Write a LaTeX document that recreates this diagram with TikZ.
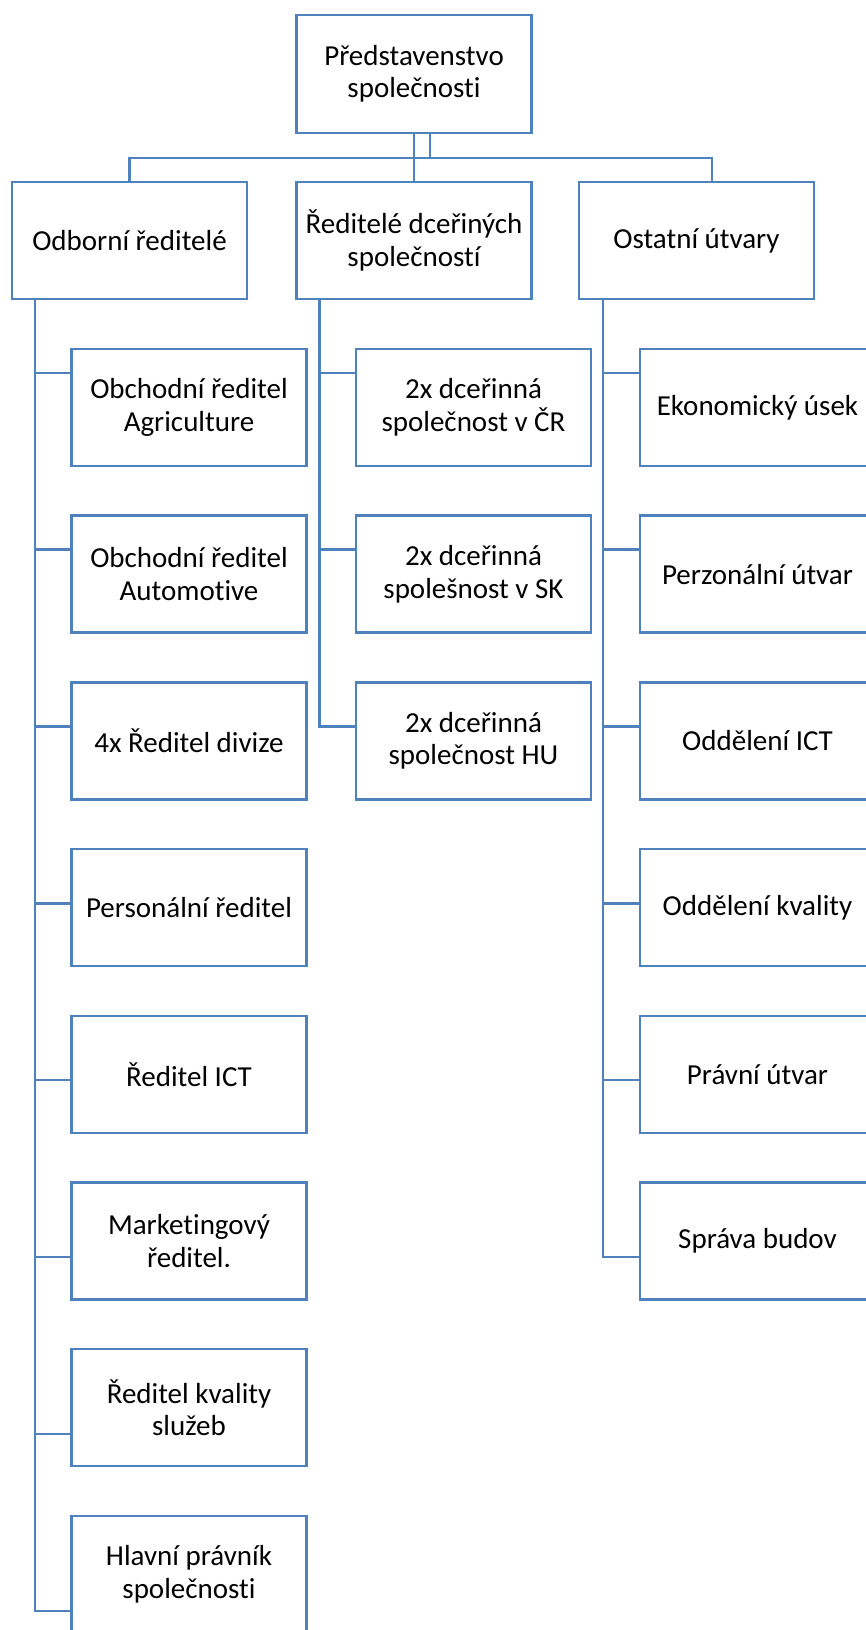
\documentclass[tikz,border=0pt]{standalone}
\usepackage{fontspec}
\setmainfont[Ligatures=NoCommon]{Carlito}
\usetikzlibrary{positioning,calc}
\definecolor{orgblue}{HTML}{4F81BD}
\tikzset{
  oc/.style={align=center, inner sep=0pt, font=\fontsize{29}{32.5}\selectfont},
  oc box/.style={oc, draw=orgblue, line width=2.5pt, fill=white, minimum width=235pt, minimum height=117pt},
  oc link/.style={draw=orgblue, line width=2.5pt},
}
\begin{document}
\begin{tikzpicture}[x=1pt, y=-1pt]
  \fill[white] (0,0) rectangle (866,1630);
  \useasboundingbox (0,0) rectangle (866,1630);
  % board and the three branches below it
  \node[oc box, minimum height=118pt] (board) at (414,74) {Představenstvo\\společnosti};
  \node[oc box] (odb)  at (129.5,240.5) {Odborní ředitelé};
  \node[oc box] (dcer) at (414,240.5)   {Ředitelé dceřiných\\společností};
  \node[oc box] (ost)  at (696.5,240.5) {Ostatní útvary};
  \coordinate (bus) at (0,158);
  \draw[oc link] (board.south) -- (dcer.north);
  \draw[oc link] ([xshift=16pt]board.south) -- ([xshift=16pt]board.south |- bus);
  \draw[oc link] (odb.north) -- (odb.north |- bus) -- ([xshift=15.5pt]ost.north |- bus) -- ([xshift=15.5pt]ost.north);
  % left column: the directors
  \foreach \n/\t [count=\k from 0] in {a1/{Obchodní ředitel\\Agriculture}, a2/{Obchodní ředitel\\Automotive},
      a3/{4x Ředitel divize}, a4/{Personální ředitel}, a5/{Ředitel ICT}, a6/{Marketingový\\ředitel.},
      a7/{Ředitel kvality\\služeb}, a8/{Hlavní právník\\společnosti}} {
    \node[oc box] (\n) at (189,407.5+166.7*\k) {\t};
    \draw[oc link] ([xshift=24pt]odb.south west) |- ([yshift={-(25+10.16*\k)*1pt}]\n.north west);
  }
  % middle column: the daughter companies
  \foreach \n/\t [count=\k from 0] in {b1/{2x dceřinná\\společnost v ČR}, b2/{2x dceřinná\\spolešnost v SK},
      b3/{2x dceřinná\\společnost HU}} {
    \node[oc box] (\n) at (473.5,407.5+166.7*\k) {\t};
    \draw[oc link] ([xshift=24pt]dcer.south west) |- ([yshift={-(25+10.16*\k)*1pt}]\n.north west);
  }
  % right column: the other units
  \foreach \n/\t [count=\k from 0] in {c1/{Ekonomický úsek}, c2/{Perzonální útvar}, c3/{Oddělení ICT},
      c4/{Oddělení kvality}, c5/{Právní útvar}, c6/{Správa budov}} {
    \node[oc box] (\n) at (757.5,407.5+166.7*\k) {\t};
    \draw[oc link] ([xshift=25pt]ost.south west) |- ([yshift={-(25+10.16*\k)*1pt}]\n.north west);
  }
\end{tikzpicture}
\end{document}
